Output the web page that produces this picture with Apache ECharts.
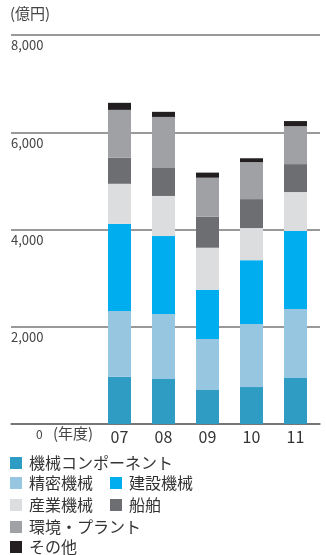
<!DOCTYPE html>
<html><head><meta charset="utf-8">
<script src="https://cdn.jsdelivr.net/npm/echarts@6/dist/echarts.min.js"></script>
<style>html,body{margin:0;padding:0;background:#fff}#c{width:326px;height:555px}</style>
</head><body><div id="c"></div>
<script>
const years = ['07','08','09','10','11'];
const yTicks = [0, 2000, 4000, 6000, 8000];
const seriesNames = ['機械コンポーネント','精密機械','建設機械','産業機械','船舶','環境・プラント','その他'];
const components = [970, 925, 700, 760, 945];
const precision = [1355, 1335, 1050, 1295, 1420];
const construction = [1790, 1605, 1010, 1315, 1605];
const industrial = [825, 825, 865, 660, 800];
const ships = [535, 575, 640, 595, 575];
const environment = [985, 1050, 800, 760, 780];
const others = [145, 105, 105, 80, 105];
const colors = ['#2f9cc3','#97c7e0','#00adee','#dcdddf','#6d6e71','#a0a1a4','#231f20'];
const values = [components, precision, construction, industrial, ships, environment, others];

const FONT = '"Noto Sans CJK JP", "Open Sans", sans-serif';
const chart = echarts.init(document.getElementById('c'));

const legendPos = [
  {left: 10, top: 455}, {left: 10, top: 475}, {left: 110, top: 475},
  {left: 10, top: 497}, {left: 110, top: 497}, {left: 10, top: 519}, {left: 10, top: 539}
];

chart.setOption({
  animation: false,
  grid: [
    {left: 11, right: 6, top: 35, bottom: 131},
    {left: 97.5, right: 8.5, top: 35, bottom: 131}
  ],
  xAxis: [
    {gridIndex: 0, type: 'category', data: [''], axisLine: {show: true, lineStyle: {color: '#6b6b6b', width: 1.5}},
     axisTick: {show: false}, axisLabel: {show: false}},
    {gridIndex: 1, type: 'category', data: years, axisLine: {show: false}, axisTick: {show: false},
     axisLabel: {color: '#333', fontSize: 16, fontFamily: FONT, margin: 5}}
  ],
  yAxis: [
    {gridIndex: 0, type: 'value', min: yTicks[0], max: yTicks[yTicks.length-1], interval: 2000,
     axisLine: {show: false}, axisTick: {show: false},
     splitLine: {lineStyle: {color: '#777', width: 1.5}},
     axisLabel: {inside: true, margin: 0, align: 'left', verticalAlign: 'top', padding: [4,0,0,0],
       color: '#444', fontSize: 13, fontFamily: FONT,
       formatter: v => v === 0 ? '' : v.toLocaleString('en-US')}},
    {gridIndex: 1, type: 'value', min: 0, max: 8000, show: false, splitLine: {show: false}}
  ],
  legend: seriesNames.map((n, i) => ({
    data: [n], left: legendPos[i].left, top: legendPos[i].top, padding: 0,
    itemWidth: 12, itemHeight: 12, icon: 'rect', selectedMode: false,
    textStyle: {color: '#333', fontSize: 16, fontFamily: FONT, lineHeight: 16, padding: [0,0,0,2]}
  })),
  series: seriesNames.map((n, i) => ({
    name: n, type: 'bar', stack: 'total', xAxisIndex: 1, yAxisIndex: 1,
    barWidth: 23, data: values[i], itemStyle: {color: colors[i]}
  })),
  graphic: [
    {type: 'text', left: 10, top: 6, style: {text: '(億円)', fill: '#444', font: '15px ' + FONT}},
    {type: 'text', left: 36, top: 428, style: {text: '0', fill: '#444', font: '12px ' + FONT}},
    {type: 'text', left: 53, top: 426, style: {text: '(年度)', fill: '#444', font: '15px ' + FONT}}
  ]
});
</script></body></html>
